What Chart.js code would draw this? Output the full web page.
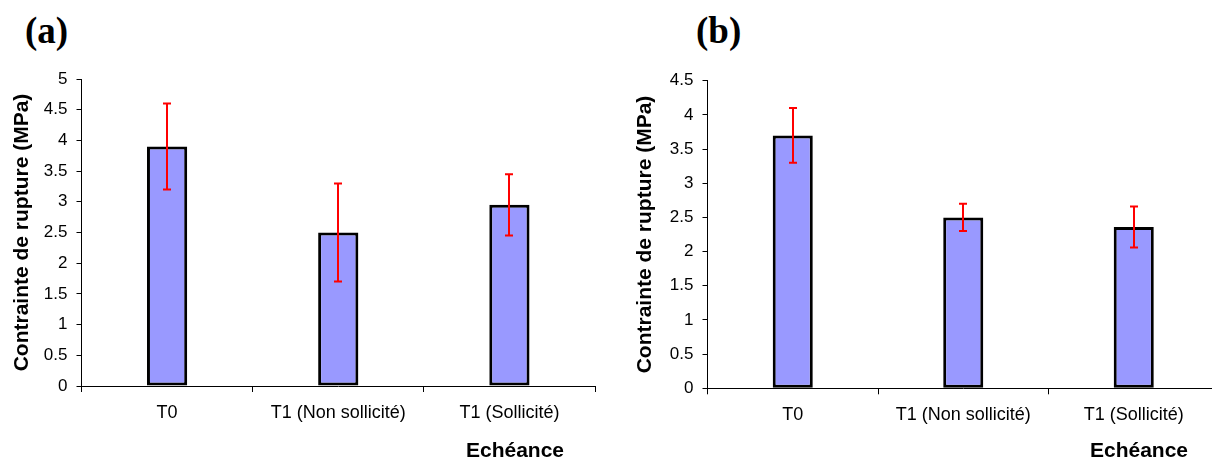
<!DOCTYPE html>
<html>
<head>
<meta charset="utf-8">
<script src="https://cdn.jsdelivr.net/npm/chart.js@4.4.0/dist/chart.umd.min.js"></script>
<style>
html, body { margin:0; padding:0; background:#fff; overflow:hidden; width:1212px; height:462px; position:relative; }
#ca { position:absolute; left:0; top:0; }
#cb { position:absolute; left:623px; top:0; }
.pl { position:absolute; font-family:"Liberation Serif","Times New Roman",serif; font-weight:bold; font-size:37px; line-height:37px; color:#000; white-space:nowrap; }
</style>
</head>
<body>
<div class="pl" id="la" style="left:25px; top:12px;"></div>
<div class="pl" id="lb" style="left:696px; top:12px;"></div>
<canvas id="ca" width="606" height="462"></canvas>
<canvas id="cb" width="600" height="462"></canvas>
<script>
// ---- data ----
const categories = ['T0', 'T1 (Non sollicité)', 'T1 (Sollicité)'];
const valuesA = [3.9, 2.5, 2.95];
const errorsA = [0.7, 0.8, 0.5];
const valuesB = [3.7, 2.5, 2.36];
const errorsB = [0.4, 0.2, 0.3];
const yTicksA = [0, 0.5, 1, 1.5, 2, 2.5, 3, 3.5, 4, 4.5, 5];
const yTicksB = [0, 0.5, 1, 1.5, 2, 2.5, 3, 3.5, 4, 4.5];
const yTitle = 'Contrainte de rupture (MPa)';
const xTitle = 'Echéance';
const panelLabels = ['(a)', '(b)'];

document.getElementById('la').textContent = panelLabels[0];
document.getElementById('lb').textContent = panelLabels[1];

const FAMILY = '"Liberation Sans", Arial, sans-serif';

const errorBarPlugin = {
  id: 'errbars',
  afterDatasetsDraw(chart, args, opts) {
    const ctx = chart.ctx;
    const yS = chart.scales.y;
    const meta = chart.getDatasetMeta(0);
    const vals = chart.data.datasets[0].data;
    const errs = opts.errors || [];
    ctx.save();
    ctx.strokeStyle = '#FF0000';
    ctx.lineWidth = 2;
    meta.data.forEach((bar, i) => {
      const x = Math.round(bar.x);
      const yt = yS.getPixelForValue(vals[i] + errs[i]);
      const yb = yS.getPixelForValue(vals[i] - errs[i]);
      ctx.beginPath();
      ctx.moveTo(x, yt); ctx.lineTo(x, yb);
      ctx.moveTo(x - 4, yt); ctx.lineTo(x + 4, yt);
      ctx.moveTo(x - 4, yb); ctx.lineTo(x + 4, yb);
      ctx.stroke();
    });
    ctx.restore();
  }
};

const xTitlePlugin = {
  id: 'xtitle',
  afterDraw(chart, args, opts) {
    const ctx = chart.ctx;
    ctx.save();
    ctx.fillStyle = '#000';
    ctx.font = 'bold 21px ' + FAMILY;
    ctx.textAlign = 'center';
    ctx.textBaseline = 'alphabetic';
    ctx.fillText(opts.text, chart.chartArea.right - 80, 457);
    ctx.restore();
  }
};

function makeChart(id, values, errors, yTicks, geom) {
  return new Chart(document.getElementById(id), {
    type: 'bar',
    data: {
      labels: categories,
      datasets: [{
        data: values,
        backgroundColor: '#9999FF',
        borderColor: '#000000',
        borderWidth: 3,
        borderSkipped: false,
        barPercentage: 0.235,
        categoryPercentage: 1.0
      }]
    },
    options: {
      responsive: false,
      animation: false,
      devicePixelRatio: 1,
      layout: { padding: { left: 0, top: geom.top, right: geom.right, bottom: 0 } },
      plugins: {
        legend: { display: false },
        tooltip: { enabled: false },
        errbars: { errors: errors },
        xtitle: { text: xTitle }
      },
      scales: {
        x: {
          offset: true,
          grid: { offset: true, drawOnChartArea: false, drawTicks: true, tickLength: 6, color: '#000' },
          border: { display: true, color: '#000', width: 1 },
          ticks: { color: '#000', font: { family: FAMILY, size: 18 }, padding: 10, maxRotation: 0, autoSkip: false },
          afterFit: s => { s.height = geom.xh; }
        },
        y: {
          min: 0,
          max: yTicks[yTicks.length - 1],
          afterBuildTicks: s => { s.ticks = yTicks.map(v => ({ value: v })); },
          afterFit: s => { s.width = geom.yw; },
          grid: { drawOnChartArea: false, drawTicks: true, tickLength: 5, color: '#000' },
          border: { display: true, color: '#000', width: 1 },
          ticks: { color: '#000', font: { family: FAMILY, size: 17 }, padding: 9, callback: v => String(v) },
          title: { display: true, text: yTitle, color: '#000', font: { family: FAMILY, size: 21, weight: 'bold' }, padding: { top: 10, bottom: 0 } }
        }
      }
    },
    plugins: [errorBarPlugin, xTitlePlugin]
  });
}

makeChart('ca', valuesA, errorsA, yTicksA, { top: 79, right: 11, xh: 76, yw: 81.5 });
makeChart('cb', valuesB, errorsB, yTicksB, { top: 80.7, right: 4, xh: 73.7, yw: 84.5 });
</script>
</body>
</html>
